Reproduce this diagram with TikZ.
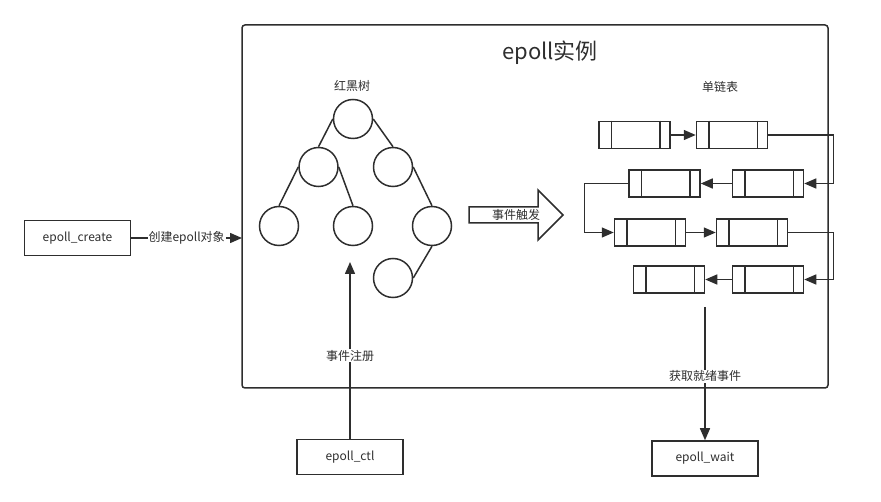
\documentclass[tikz,border=0pt]{standalone}
\usepackage{fontspec}
\setmainfont{Noto Sans CJK SC}
\usetikzlibrary{arrows.meta}
\definecolor{ink}{HTML}{2E2E2E}
\tikzset{
  arr/.style={-{Triangle[length=12pt, width=10pt]}},
  callbox/.style={draw, minimum width=106pt, minimum height=35pt, font=\fontsize{12}{14}\selectfont},
  treenode/.style={draw, circle, minimum size=39pt, inner sep=0pt},
  listnode/.style={draw, minimum width=71pt, minimum height=27pt, inner sep=0pt},
  lbl/.style={font=\fontsize{12}{14}\selectfont, fill=white, inner sep=1pt}
}
\begin{document}
\begin{tikzpicture}[x=1pt, y=-1pt, line width=1.5pt, color=ink, text=ink]
	\useasboundingbox (0,0) rectangle (881,502);
	\draw[rounded corners=3pt] (242,25) rectangle (828,388);
	\node[font=\fontsize{22}{26}\selectfont] (title) at (550,53) {epoll实例};
	\node[lbl] (treetitle) at (352,86) {红黑树};
	\node[lbl] (listtitle) at (720,87) {单链表};

	\node[treenode] (t1) at (353,119) {};
	\node[treenode] (t2) at (318.5,167) {};
	\node[treenode] (t3) at (393,167) {};
	\node[treenode] (t4) at (279,226) {};
	\node[treenode] (t5) at (353,226) {};
	\node[treenode] (t6) at (432,226) {};
	\node[treenode] (t7) at (393,278) {};
	\draw (t1.west) -- (t2.north);
	\draw (t1.east) -- (t3.north);
	\draw (t2.west) -- (t4.north);
	\draw (t2.east) -- (t5.north);
	\draw (t3.east) -- (t6.north);
	\draw (t6.south) -- (t7.east);

	\draw (469,207) -- (538,207) -- (538,190) -- (563,215) -- (538,240) -- (538,223) -- (469,223) -- cycle;
	\node[font=\fontsize{12}{14}\selectfont] (trigger) at (516,215) {事件触发};

	\foreach \n/\x/\y in {1/634.5/135, 2/732/135, 3/664.5/183.5, 4/768/183.5, 5/650/232.5, 6/752/232.5, 7/669/279.5, 8/768/279.5} {
		\node[listnode] (l\n) at (\x,\y) {};
		\draw ([xshift=13pt]l\n.north west) -- ([xshift=13pt]l\n.south west);
		\draw ([xshift=-11pt]l\n.north east) -- ([xshift=-11pt]l\n.south east);
	}
	\draw[arr] (l1.east) -- (l2.west);
	\draw[arr] (l2.east) -- ++(65,0) |- (l4.east);
	\draw[arr] (l4.west) -- (l3.east);
	\draw[arr] (l3.west) -- ++(-44,0) |- (l5.west);
	\draw[arr] (l5.east) -- (l6.west);
	\draw[arr] (l6.east) -- ++(45,0) |- (l8.east);
	\draw[arr] (l8.west) -- (l7.east);

	\node[callbox] (create) at (77.5,238) {epoll\_create};
	\node[callbox] (ctl) at (350,457) {epoll\_ctl};
	\node[callbox] (wait) at (705,458.5) {epoll\_wait};
	\coordinate (boxleft) at (242,238);
	\coordinate (regtip) at (350,262);
	\coordinate (readyfrom) at (705,307);
	\draw[arr] (create.east) -- node[lbl] (createlbl) {创建epoll对象} (boxleft);
	\draw[arr] (ctl.north) -- node[lbl, pos=0.47] (ctllbl) {事件注册} (regtip);
	\draw[arr] (readyfrom) -- node[lbl, pos=0.52] (waitlbl) {获取就绪事件} (wait.north);
\end{tikzpicture}
\end{document}
